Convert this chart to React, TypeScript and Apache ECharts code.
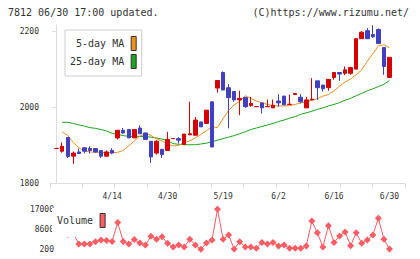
import { useEffect, useRef } from 'react';
import * as echarts from 'echarts';

// Trading days shown on the chart (days without trades are absent)
const DATES = [
  '3/31', '4/1', '4/2', '4/3', '4/4', '4/7', '4/8', '4/9', '4/10', '4/11',
  '4/14', '4/15', '4/16', '4/17', '4/18', '4/21', '4/22', '4/23', '4/24', '4/25',
  '4/30', '5/1', '5/2', '5/7', '5/8', '5/9', '5/12', '5/14', '5/15', '5/16',
  '5/19', '5/20', '5/21', '5/22', '5/23', '5/26', '5/27', '5/28', '5/29', '5/30',
  '6/2', '6/3', '6/4', '6/5', '6/6', '6/9', '6/10', '6/11', '6/12', '6/13',
  '6/16', '6/17', '6/18', '6/19', '6/20', '6/23', '6/24', '6/25', '6/26', '6/27',
  '6/30',
];

const OPEN = [
  1892, 1885, 1921, 1872, 1883, 1894, 1892, 1892, 1887, 1872,
  1887, 1920, 1940, 1942, 1920, 1946, 1933, 1911, 1880, 1890,
  1887, 1918, 1918, 1903, 1928, 1927, 1962, 1958, 2015, 2051,
  2092, 2052, 2042, 2020, 2026, 2005, 2002, 2012, 2002, 1999,
  2017, 2030, 2008, 2034, 2027, 1999, 2020, 2070, 2059, 2052,
  2079, 2092, 2090, 2090, 2101, 2181, 2202, 2192, 2205, 2158,
  2079,
];
const CLOSE = [
  1892.5, 1898, 1871, 1880, 1879, 1885, 1887, 1883, 1872, 1883,
  1880, 1940, 1933, 1920, 1942, 1931, 1916, 1870, 1911, 1876,
  1916, 1918.5, 1914, 1930, 1931, 1967, 1949, 1993, 1896, 2071,
  2046, 2026, 2020, 2024, 2002, 2011, 2002.5, 1999, 2002.5, 2006,
  2012, 2007, 2008.5, 2037, 2015, 2020, 2022, 2052, 2049, 2074,
  2092, 2088, 2099, 2105, 2181, 2198, 2181, 2186, 2168, 2108,
  2132,
];
const LOW = [
  1892, 1881, 1867, 1852, 1877, 1879, 1879, 1881, 1867, 1870,
  1877, 1916, 1931, 1920, 1920, 1930, 1916, 1854, 1876, 1867,
  1887, 1918, 1905, 1903, 1928, 1927, 1949, 1958, 1896, 2039,
  2046, 1945, 2015, 1980, 1999, 2002, 2002, 1984, 2002, 1999,
  2002, 2007, 2008, 2034, 2011, 1999, 2020, 2020, 2042, 2044,
  2073, 2070, 2085, 2086, 2101, 2181, 2181, 2183, 2168, 2086,
  2079,
];
const HIGH = [
  1892.5, 1908, 1921, 1884, 1892, 1896, 1898, 1893, 1887, 1887,
  1893, 1940, 1946, 1942, 1942, 1953, 1933, 1911, 1914, 1890,
  1936, 1918.5, 1922, 1930, 2015, 1975, 1962, 1993, 2015, 2071,
  2095, 2062, 2042, 2044, 2026, 2028, 2002.5, 2012, 2021, 2021,
  2035, 2030, 2034, 2037, 2035, 2028, 2077, 2070, 2059, 2074,
  2093, 2092, 2108, 2105, 2181, 2201, 2209, 2216, 2208, 2158,
  2132,
];

const MA5 = [
  null, 1936, 1926, 1908, 1894, 1886, 1883, 1882, 1882, 1881,
  1881, 1882, 1887, 1899, 1912, 1925, 1931, 1927, 1917, 1912,
  1903, 1899, 1900, 1908, 1912, 1920, 1929, 1939, 1949, 1947,
  1971, 1992, 2007, 2016, 2031, 2024, 2017, 2012, 2008, 2005,
  2004, 2004, 2005, 2008, 2012, 2015, 2019, 2023, 2030, 2034,
  2044, 2056, 2067, 2075, 2086, 2099, 2122, 2141, 2162, 2165,
  2157,
];
const MA25 = [
  null, 1961, 1961, 1958, 1954, 1951, 1947, 1945, 1942, 1938,
  1932, 1929, 1926, 1924, 1924, 1924, 1923, 1922, 1920, 1917,
  1913, 1905, 1903, 1902, 1902, 1902, 1904, 1906, 1910, 1914,
  1918, 1922, 1926, 1931, 1936, 1942, 1946, 1950, 1954, 1958,
  1963, 1967, 1972, 1976, 1982, 1986, 1990, 1995, 1999, 2004,
  2008, 2013, 2019, 2024, 2031, 2037, 2044, 2049, 2055, 2061,
  2071,
];

const VOLUME = [
  7800, 9400, 6400, 7000, 2400, 2400, 2400, 3400, 4100, 3900,
  3500, 11500, 3500, 2400, 4300, 2800, 2000, 5700, 4400, 5500,
  2700, 1200, 2000, 1200, 4400, 2000, 200, 2800, 4100, 17000,
  4400, 6200, 300, 3400, 1200, 1200, 600, 3100, 2400, 3100,
  1600, 2000, 600, 600, 600, 1600, 12100, 7100, 1200, 10100,
  3100, 5800, 7500, 1700, 7100, 2700, 4100, 6200, 13200, 4400,
  300,
];

const PRICE_TICKS = [1800, 2000, 2200];
const VOLUME_TICKS = [200, 8600, 17000];

const RED = '#d50000';
const BLUE = '#4040c0';
const ORANGE = '#f0901e';
const GREEN = '#1ea41e';
const VOL = '#ff5c64';
const AXIS = '#dddddd';
const TEXT = '#333333';
const FONT = '"DejaVu Sans Mono", monospace';

export default function App() {
  const ref = useRef<HTMLDivElement>(null);

  useEffect(() => {
    if (!ref.current) return;
    const chart = echarts.init(ref.current, null, { renderer: 'svg' });

    const xMin = -1.2;
    const xMax = 62.8;
    const xTicks = Array.from({ length: 12 }, (_, k) => xMin + (k * (xMax - xMin)) / 11);
    const labelIdx = DATES.map((_, i) => i).filter((i) => i > 0 && i % 10 === 0);
    const candles = DATES.map((_, i) => [i, OPEN[i], CLOSE[i], LOW[i], HIGH[i]]);
    const toPoints = (arr: (number | null)[]) =>
      arr.map((v, i) => [i, v]).filter((p) => p[1] != null);
    const plain = (v: number) => String(v);

    const legendText = { fontSize: 10, color: TEXT, fontFamily: FONT, padding: [0, 2, 0, 0] };

    chart.setOption({
      animation: false,
      backgroundColor: '#ffffff',
      textStyle: { fontFamily: FONT },
      title: [
        {
          text: '7812 06/30 17:00 updated.',
          left: 8,
          top: 7,
          padding: 0,
          textStyle: { fontSize: 10, fontWeight: 'normal', color: TEXT, fontFamily: FONT },
        },
        {
          text: '(C)https://www.rizumu.net/',
          right: 11,
          top: 7,
          padding: 0,
          textStyle: { fontSize: 10, fontWeight: 'normal', color: TEXT, fontFamily: FONT },
        },
      ],
      legend: [
        {
          orient: 'vertical',
          align: 'right',
          left: 65,
          top: 30,
          padding: [6, 5, 7, 5],
          itemGap: 3,
          itemWidth: 5,
          itemHeight: 14,
          borderColor: '#cccccc',
          borderWidth: 1,
          backgroundColor: '#ffffff',
          selectedMode: false,
          textStyle: legendText,
          data: [
            { name: '5-day MA', icon: 'rect', itemStyle: { color: ORANGE, borderColor: '#333', borderWidth: 1 } },
            { name: '25-day MA', icon: 'rect', itemStyle: { color: GREEN, borderColor: '#333', borderWidth: 1 } },
          ],
        },
        {
          orient: 'vertical',
          align: 'right',
          left: 52,
          top: 208,
          padding: [5, 5, 9, 5],
          itemWidth: 5,
          itemHeight: 14,
          borderWidth: 0,
          backgroundColor: '#ffffff',
          selectedMode: false,
          textStyle: legendText,
          data: [
            { name: 'Volume', icon: 'rect', itemStyle: { color: VOL, borderColor: '#333', borderWidth: 1 } },
          ],
        },
      ],
      grid: [
        { left: 50, right: 15, top: 25, height: 158.5 },
        { left: 50, right: 15, top: 209.3, height: 40 },
      ],
      xAxis: [
        {
          type: 'value',
          gridIndex: 0,
          min: xMin,
          max: xMax,
          axisLine: { show: true, onZero: false, lineStyle: { color: AXIS } },
          axisTick: { show: true, customValues: xTicks, length: 5, lineStyle: { color: AXIS } },
          axisLabel: {
            customValues: labelIdx,
            formatter: (v: number) => DATES[Math.round(v)] ?? '',
            margin: 9,
            fontSize: 8,
            color: TEXT,
            fontFamily: FONT,
          },
          splitLine: { show: false },
        },
        {
          type: 'value',
          gridIndex: 1,
          min: xMin,
          max: xMax,
          show: false,
        },
      ],
      yAxis: [
        {
          type: 'value',
          gridIndex: 0,
          min: 1800,
          max: 2217,
          axisLine: { show: true, lineStyle: { color: AXIS } },
          axisTick: { show: true, customValues: PRICE_TICKS, length: 5, lineStyle: { color: AXIS } },
          axisLabel: {
            customValues: PRICE_TICKS,
            formatter: plain,
            margin: 11,
            fontSize: 8,
            color: TEXT,
            fontFamily: FONT,
          },
          splitLine: { show: false },
        },
        {
          type: 'value',
          gridIndex: 1,
          min: 200,
          max: 17000,
          axisLine: { show: false },
          axisTick: { show: false },
          axisLabel: {
            customValues: VOLUME_TICKS,
            formatter: plain,
            margin: -4,
            fontSize: 8,
            color: TEXT,
            fontFamily: FONT,
          },
          splitLine: { show: false },
        },
      ],
      series: [
        {
          name: '25-day MA',
          type: 'line',
          xAxisIndex: 0,
          yAxisIndex: 0,
          data: toPoints(MA25),
          symbol: 'none',
          z: 2,
          lineStyle: { color: GREEN, width: 1 },
          itemStyle: { color: GREEN },
        },
        {
          name: '5-day MA',
          type: 'line',
          xAxisIndex: 0,
          yAxisIndex: 0,
          data: toPoints(MA5),
          symbol: 'none',
          z: 2,
          lineStyle: { color: ORANGE, width: 1 },
          itemStyle: { color: ORANGE },
        },
        {
          name: 'Price',
          type: 'candlestick',
          xAxisIndex: 0,
          yAxisIndex: 0,
          data: candles,
          barWidth: 4,
          z: 3,
          itemStyle: {
            color: RED,
            color0: BLUE,
            borderColor: RED,
            borderColor0: BLUE,
            borderWidth: 1,
          },
        },
        {
          name: 'Volume',
          type: 'line',
          xAxisIndex: 1,
          yAxisIndex: 1,
          data: toPoints(VOLUME),
          symbol: 'diamond',
          symbolSize: 7,
          z: 2,
          lineStyle: { color: VOL, width: 1 },
          itemStyle: { color: VOL },
        },
      ],
    });

    return () => chart.dispose();
  }, []);

  return (
    <div
      ref={ref}
      style={{ position: 'fixed', left: 0, top: 0, width: 420, height: 259 }}
    />
  );
}
